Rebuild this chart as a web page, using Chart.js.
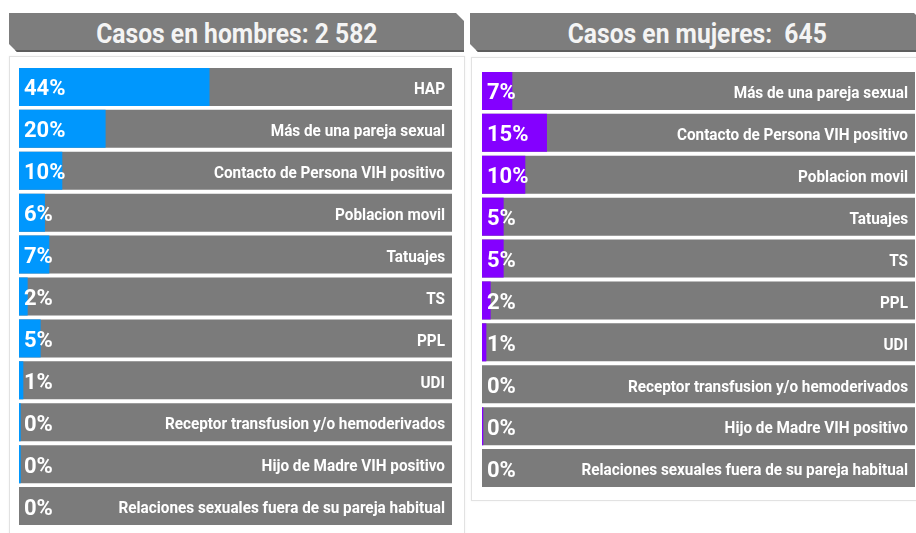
<!DOCTYPE html>
<html>
<head>
<meta charset="utf-8">
<script src="https://cdn.jsdelivr.net/npm/chart.js@4.4.0/dist/chart.umd.min.js"></script>
<style>
  html, body { margin: 0; padding: 0; background: #ffffff; }
  body { width: 916px; height: 533px; position: relative; overflow: hidden; font-family: Roboto, "DejaVu Sans Condensed", sans-serif; }
  .hdr { position: absolute; background: #7d7d7d; color: #f4f4f4; font-weight: bold; font-size: 28px; text-align: center; line-height: 41px; box-shadow: inset 0 -2px 0 #5e5e5e; }
  .hdr span { display: inline-block; transform: scaleX(0.88); transform-origin: center; white-space: pre; }
  #hL { left: 9px; top: 13px; width: 455px; height: 39px; clip-path: polygon(0 0, calc(100% - 8px) 0, 100% 8px, 100% 100%, 8px 100%, 0 calc(100% - 8px)); }
  #hR { left: 470px; top: 13px; width: 452px; height: 39px; clip-path: polygon(0 0, calc(100% - 8px) 0, 100% 8px, 100% 100%, 8px 100%, 0 calc(100% - 8px)); }
  #hR span { margin-left: 2px; }
  .panel { position: absolute; border: 1px solid #e2e2e2; box-shadow: 0 0 2px rgba(0,0,0,0.06); background: #fff; }
  #pL { left: 9px; top: 56px; width: 454px; height: 490px; }
  #pR { left: 471px; top: 57px; width: 452px; height: 442px; }
  .cw { position: absolute; }
  #cwL { left: 19px; top: 66px; width: 433px; height: 461px; }
  #cwR { left: 482px; top: 70px; width: 433px; height: 419px; }
</style>
</head>
<body>
<div class="panel" id="pL"></div>
<div class="panel" id="pR"></div>
<div class="hdr" id="hL"><span>Casos en hombres: 2 582</span></div>
<div class="hdr" id="hR"><span>Casos en mujeres:  645</span></div>
<div class="cw" id="cwL"><canvas id="cL"></canvas></div>
<div class="cw" id="cwR"><canvas id="cR"></canvas></div>
<script>
// Men
const menCategories = ["HAP", "Más de una pareja sexual", "Contacto de Persona VIH positivo", "Poblacion movil", "Tatuajes", "TS", "PPL", "UDI", "Receptor transfusion y/o hemoderivados", "Hijo de Madre VIH positivo", "Relaciones sexuales fuera de su pareja habitual"];
const menValues = [44, 20, 10, 6, 7, 2, 5, 1, 0.4, 0.4, 0];
// Women
const womenCategories = ["Más de una pareja sexual", "Contacto de Persona VIH positivo", "Poblacion movil", "Tatuajes", "TS", "PPL", "UDI", "Receptor transfusion y/o hemoderivados", "Hijo de Madre VIH positivo", "Relaciones sexuales fuera de su pareja habitual"];
const womenValues = [7, 15, 10, 5, 5, 2, 1, 0, 0.3, 0];
const trackMax = 100;

const labelPlugin = {
  id: 'barLabels',
  afterDatasetsDraw(chart) {
    const ctx = chart.ctx;
    const meta = chart.getDatasetMeta(1);
    const vals = chart.data.datasets[0].data;
    const area = chart.chartArea;
    const sx = 0.9;
    ctx.save();
    ctx.fillStyle = '#ffffff';
    ctx.textBaseline = 'middle';
    meta.data.forEach((el, i) => {
      ctx.textAlign = 'left';
      ctx.font = 'bold 22px Roboto, "Liberation Sans", sans-serif';
      ctx.fillText(Math.round(vals[i]) + '%', area.left + 5, el.y + 3);
      ctx.save();
      ctx.translate(area.right - 7, el.y + 3);
      ctx.scale(sx, 1);
      ctx.textAlign = 'right';
      ctx.font = 'bold 17px Roboto, "DejaVu Sans Condensed", sans-serif';
      ctx.fillText(chart.data.labels[i], 0, 0);
      ctx.restore();
    });
    ctx.restore();
  }
};

function makeChart(id, cats, vals, color) {
  return new Chart(document.getElementById(id), {
    type: 'bar',
    data: {
      labels: cats,
      datasets: [
        { data: vals, backgroundColor: color, grouped: false, barPercentage: 0.907, categoryPercentage: 1, borderWidth: 0 },
        { data: cats.map(() => trackMax), backgroundColor: '#7b7b7b', grouped: false, barPercentage: 0.907, categoryPercentage: 1, borderWidth: 0 }
      ]
    },
    options: {
      indexAxis: 'y',
      responsive: true,
      maintainAspectRatio: false,
      animation: false,
      devicePixelRatio: 1,
      layout: { padding: 0 },
      plugins: { legend: { display: false }, tooltip: { enabled: false }, title: { display: false } },
      scales: {
        x: { display: false, min: 0, max: trackMax },
        y: { display: false }
      }
    },
    plugins: [labelPlugin]
  });
}

makeChart('cL', menCategories, menValues, '#0097fd');
makeChart('cR', womenCategories, womenValues, '#8400ff');
</script>
</body>
</html>
